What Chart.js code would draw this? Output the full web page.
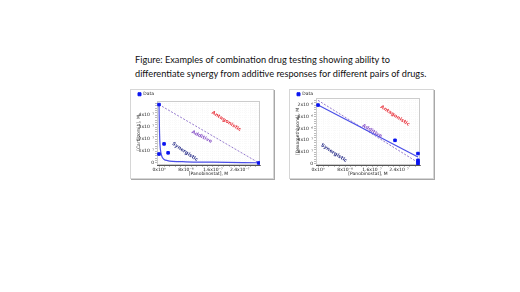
<!DOCTYPE html>
<html>
<head>
<meta charset="utf-8">
<script src="https://cdn.jsdelivr.net/npm/chart.js@4.4.0/dist/chart.umd.min.js"></script>
<style>
  html, body { margin: 0; padding: 0; background: #fff; }
  body { width: 520px; height: 292px; position: relative; overflow: hidden; }
  #caption { position: absolute; left: 135px; top: 53px; font-family: Lato, sans-serif; font-size: 9.2px; line-height: 14px; color: #111; white-space: nowrap; }
  .panel { position: absolute; background: #fff; border: 1px solid #d6d6d6; box-shadow: 1px 1px 0 #a8a8a8; }
  #p1 { left: 130px; top: 89px; width: 142px; height: 88px; }
  #p2 { left: 289px; top: 89px; width: 143px; height: 88px; }
</style>
</head>
<body>
<div id="caption">Figure: Examples of combination drug testing showing ability to<br>differentiate synergy from additive responses for different pairs of drugs.</div>
<div class="panel" id="p1"><canvas id="chart1"></canvas></div>
<div class="panel" id="p2"><canvas id="chart2"></canvas></div>
<script>
// shared x axis: panobinostat
var xTicks = [0, 8e-8, 1.6e-7, 2.4e-7];
var xTickLabels = ['0x10\u2070', '8x10\u207b\u2078', '1.6x10\u207b\u2077', '2.4x10\u207b\u2077'];

// left chart: panobinostat + carfilzomib
var leftYTicks = [0, 1e-7, 2e-7, 3e-7, 4e-7];
var leftYTickLabels = ['0', '1x10\u207b\u2077', '2x10\u207b\u2077', '3x10\u207b\u2077', '4x10\u207b\u2077'];
var leftDataX = [0, 0, 1.5e-8, 2.7e-8, 2.96e-7];
var leftDataY = [4.9e-7, 0.75e-7, 1.6e-7, 0.85e-7, 0];
var leftFitX = [0, 0.15e-8, 0.3e-8, 0.6e-8, 1.0e-8, 1.5e-8, 2.5e-8, 4e-8, 8e-8, 1.6e-7, 2.96e-7];
var leftFitY = [4.9e-7, 2.6e-7, 1.5e-7, 0.8e-7, 0.45e-7, 0.3e-7, 0.2e-7, 0.14e-7, 0.1e-7, 0.07e-7, 0.02e-7];
var leftAddX = [0, 2.94e-7];
var leftAddY = [4.9e-7, 0.05e-7];

// right chart: panobinostat + dexamethasone
var rightYTicks = [0, 4e-7, 8e-7, 1.2e-6, 1.6e-6, 2e-6];
var rightYTickLabels = ['0', '4x10\u207b\u2077', '8x10\u207b\u2077', '1.2x10\u207b\u2076', '1.6x10\u207b\u2076', '2x10\u207b\u2076'];
var rightDataX = [0, 2.28e-7, 2.96e-7, 2.96e-7, 2.96e-7, 2.96e-7];
var rightDataY = [2e-6, 8e-7, 3.5e-7, 1.2e-7, 0.6e-7, 0];
var rightFitX = [0, 2.96e-7];
var rightFitY = [2.0e-6, 2.3e-7];
var rightAddX = [0, 2.94e-7];
var rightAddY = [2.16e-6, 0.6e-7];

var tickFont = { family: 'DejaVu Sans', size: 4.5 };

function pts(xs, ys) {
    return xs.map(function (x, i) { return { x: x, y: ys[i] }; });
}

function withMinor(major, step, max) {
    var out = [];
    for (var v = 0; v <= max + step / 10; v += step) out.push({ value: v });
    return out;
}

function isMajor(v, major) {
    for (var i = 0; i < major.length; i++) {
        if (Math.abs(v - major[i]) < 1e-12) return i;
    }
    return -1;
}

var regionLabels = {
    id: 'regionLabels',
    afterDatasetsDraw: function (chart, args, opts) {
        var ctx = chart.ctx;
        (opts.items || []).forEach(function (n) {
            var px = chart.scales.x.getPixelForValue(n.x);
            var py = chart.scales.y.getPixelForValue(n.y);
            ctx.save();
            ctx.translate(px, py);
            ctx.rotate(n.angle * Math.PI / 180);
            ctx.font = 'bold 4.8px "DejaVu Sans"';
            ctx.fillStyle = n.color;
            ctx.textAlign = 'center';
            ctx.textBaseline = 'middle';
            ctx.fillText(n.text, 0, 0);
            ctx.restore();
        });
    }
};

var plotFrame = {
    id: 'plotFrame',
    beforeDatasetsDraw: function (chart) {
        var a = chart.chartArea, ctx = chart.ctx;
        ctx.save();
        ctx.strokeStyle = '#cccccc';
        ctx.lineWidth = 1;
        ctx.strokeRect(a.left + 0.5, a.top + 0.5, a.right - a.left - 1, a.bottom - a.top - 1);
        ctx.restore();
    }
};

function makeChart(id, cfg) {
    return new Chart(document.getElementById(id).getContext('2d'), {
        type: 'scatter',
        data: {
            datasets: [{
                label: 'Data',
                data: pts(cfg.dataX, cfg.dataY),
                backgroundColor: '#0a14f0',
                borderColor: '#0a14f0',
                pointStyle: 'rect',
                pointRadius: 1.8,
                order: 0
            }, {
                label: 'Fit',
                data: pts(cfg.fitX, cfg.fitY),
                showLine: true,
                borderColor: '#4a4ee8',
                borderWidth: 1.2,
                pointRadius: 0,
                cubicInterpolationMode: 'monotone',
                order: 1
            }, {
                label: 'Additive',
                data: pts(cfg.addX, cfg.addY),
                showLine: true,
                borderColor: '#8a6cc8',
                borderWidth: 0.9,
                borderDash: [2, 1.5],
                pointRadius: 0,
                order: 2
            }]
        },
        options: {
            responsive: true,
            maintainAspectRatio: false,
            animation: false,
            layout: { padding: { left: 5, right: 13, top: 0, bottom: 1 } },
            plugins: {
                legend: {
                    position: 'top',
                    align: 'start',
                    maxHeight: cfg.legendH,
                    labels: {
                        filter: function (item) { return item.text === 'Data'; },
                        usePointStyle: true,
                        pointStyle: 'rect',
                        boxWidth: 3,
                        boxHeight: 3,
                        padding: 2,
                        color: '#222',
                        font: { family: 'DejaVu Sans', size: 4.5 }
                    }
                },
                tooltip: { enabled: false },
                regionLabels: { items: cfg.notes }
            },
            scales: {
                x: {
                    type: 'linear',
                    min: -0.6e-8,
                    max: cfg.xMax,
                    afterBuildTicks: function (scale) { scale.ticks = withMinor(xTicks, 1.6e-8, 2.9e-7); },
                    afterFit: function (scale) { scale.height = 12; },
                    ticks: {
                        autoSkip: false,
                        maxRotation: 0,
                        padding: 0,
                        color: '#222',
                        font: tickFont,
                        callback: function (value) {
                            var i = isMajor(value, xTicks);
                            return i < 0 ? '' : xTickLabels[i];
                        }
                    },
                    grid: { color: '#f3f3f3', tickColor: '#777', tickLength: 2, lineWidth: 0.5 },
                    border: { color: '#555', width: 1, dash: [1, 1] },
                    title: { display: true, text: '[Panobinostat], M', color: '#222', font: { family: 'DejaVu Sans', size: 4.5 }, padding: 0 }
                },
                y: {
                    type: 'linear',
                    min: cfg.yMin,
                    max: cfg.yMax,
                    afterBuildTicks: function (scale) { scale.ticks = withMinor(cfg.yTicks, cfg.yMinor, cfg.yTop); },
                    afterFit: function (scale) { scale.width = 21; },
                    ticks: {
                        autoSkip: false,
                        padding: 1,
                        color: '#222',
                        font: tickFont,
                        callback: function (value) {
                            var i = isMajor(value, cfg.yTicks);
                            return i < 0 ? '' : cfg.yLabels[i];
                        }
                    },
                    grid: { color: '#f3f3f3', tickColor: '#777', tickLength: 2, lineWidth: 0.5 },
                    border: { color: '#555', width: 1, dash: [1, 1] },
                    title: { display: true, text: cfg.yTitle, color: '#222', font: { family: 'DejaVu Sans', size: 4.5 }, padding: 0 }
                }
            }
        },
        plugins: [plotFrame, regionLabels]
    });
}

makeChart('chart1', {
    dataX: leftDataX, dataY: leftDataY,
    fitX: leftFitX, fitY: leftFitY,
    addX: leftAddX, addY: leftAddY,
    yTicks: leftYTicks, yLabels: leftYTickLabels,
    yMinor: 0.2e-7, yTop: 5.1e-7,
    yMin: -0.17e-7, yMax: 5.2e-7, xMax: 3.0e-7,
    legendH: 11,
    yTitle: '[Carfilzomib], M',
    notes: [
        { text: 'Antagonistic', x: 2.0e-7, y: 3.5e-7, angle: 32, color: '#e8303a' },
        { text: 'Additive', x: 1.27e-7, y: 2.2e-7, angle: 27, color: '#8a55c8' },
        { text: 'Synergistic', x: 0.77e-7, y: 0.94e-7, angle: 34, color: '#2a2f8a' }
    ]
});

makeChart('chart2', {
    dataX: rightDataX, dataY: rightDataY,
    fitX: rightFitX, fitY: rightFitY,
    addX: rightAddX, addY: rightAddY,
    yTicks: rightYTicks, yLabels: rightYTickLabels,
    yMinor: 0.8e-7, yTop: 2.2e-6,
    yMin: -0.04e-6, yMax: 2.24e-6, xMax: 3.02e-7,
    legendH: 8,
    yTitle: '[Dexamethasone], M',
    notes: [
        { text: 'Antagonistic', x: 2.28e-7, y: 1.64e-6, angle: 33, color: '#e8303a' },
        { text: 'Additive', x: 1.6e-7, y: 1.12e-6, angle: 31, color: '#8a55c8' },
        { text: 'Synergistic', x: 0.47e-7, y: 0.37e-6, angle: 33, color: '#2a2f8a' }
    ]
});
</script>
</body>
</html>
